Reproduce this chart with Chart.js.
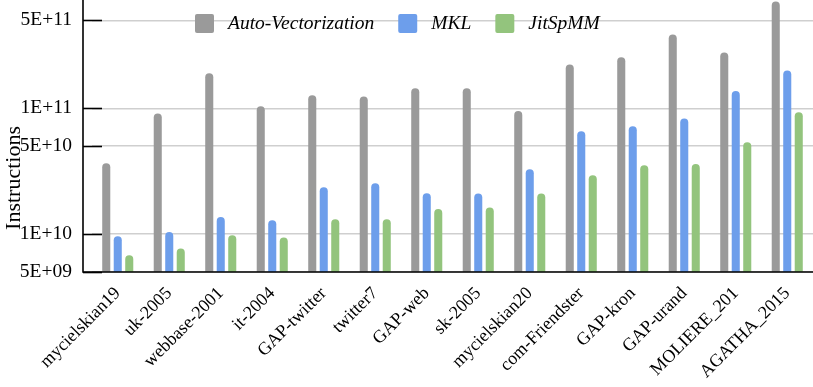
<!DOCTYPE html>
<html>
<head>
<meta charset="utf-8">
<script src="https://cdn.jsdelivr.net/npm/chart.js@4"></script>
<style>
  body{margin:0;background:#fff;}
</style>
</head>
<body>
<canvas id="myChart" width="813" height="387"></canvas>
<script>
const graphs=["mycielskian19","uk-2005","webbase-2001","it-2004","GAP-twitter","twitter7","GAP-web","sk-2005","mycielskian20","com-Friendster","GAP-kron","GAP-urand","MOLIERE_201","AGATHA_2015"];
const autoVec=[3.66e10,9.1e10,1.9e11,1.04e11,1.27e11,1.24e11,1.44e11,1.44e11,9.5e10,2.23e11,2.54e11,3.86e11,2.78e11,7.06e11];
const mkl=[9.6e9,1.04e10,1.37e10,1.29e10,2.36e10,2.54e10,2.11e10,2.1e10,3.28e10,6.56e10,7.2e10,8.3e10,1.37e11,2.0e11];
const jit=[6.8e9,7.7e9,9.8e9,9.4e9,1.31e10,1.31e10,1.58e10,1.63e10,2.1e10,2.94e10,3.53e10,3.6e10,5.37e10,9.3e10];
const yTicks=[5e9,1e10,5e10,1e11,5e11];
const yMin=5e9, yMax=7.25e11;

const serif="'Liberation Serif','Times New Roman',serif";

function sci(v){
    let e=Math.floor(Math.log10(v)+1e-9);
    let m=Math.round(v/Math.pow(10,e));
    return m+"E+"+(e<10?"0"+e:e);
}

// y axis line, inside ticks, x axis line, y title and the legend on top of the plot
const axesPlugin={
    id:"axesPlugin",
    afterDatasetsDraw(chart){
        const ctx=chart.ctx;
        const area=chart.chartArea;
        const y=chart.scales.y;
        const axisX=83;
        ctx.save();
        ctx.strokeStyle="#000";
        ctx.lineWidth=1.6;
        ctx.beginPath();
        ctx.moveTo(axisX,0);
        ctx.lineTo(axisX,area.bottom);
        ctx.lineTo(area.right,area.bottom);
        ctx.stroke();
        yTicks.forEach(v=>{
            let py=Math.round(y.getPixelForValue(v))+0.5;
            ctx.beginPath();
            ctx.moveTo(axisX,py);
            ctx.lineTo(axisX+19,py);
            ctx.stroke();
        });

        ctx.fillStyle="#000";
        ctx.font="22px "+serif;
        ctx.translate(14,178);
        ctx.rotate(-Math.PI/2);
        ctx.textAlign="center";
        ctx.textBaseline="middle";
        ctx.fillText("Instructions",0,0);
        ctx.restore();

        // legend
        ctx.save();
        ctx.font="italic 19.5px "+serif;
        ctx.textBaseline="middle";
        let lx=195;
        const ly=24;
        chart.data.datasets.forEach(ds=>{
            ctx.fillStyle=ds.backgroundColor;
            ctx.beginPath();
            ctx.roundRect(lx,14,19,19,2);
            ctx.fill();
            ctx.fillStyle="#000";
            ctx.fillText(ds.label,lx+33,ly);
            lx+=33+ctx.measureText(ds.label).width+24;
        });
        ctx.restore();
    }
};

let barChart=new Chart("myChart",{
    type:"bar",
    data:{
        labels:graphs,
        datasets:[
            {label:"Auto-Vectorization",data:autoVec,backgroundColor:"#9a9a9a"},
            {label:"MKL",data:mkl,backgroundColor:"#6d9eeb"},
            {label:"JitSpMM",data:jit,backgroundColor:"#93c47d"}
        ]
    },
    options:{
        responsive:false,
        animation:false,
        layout:{padding:0},
        datasets:{
            bar:{
                categoryPercentage:0.67,
                barPercentage:0.7,
                borderRadius:4,
                borderSkipped:"start"
            }
        },
        plugins:{
            legend:{display:false},
            title:{display:false},
            tooltip:{enabled:false}
        },
        scales:{
            x:{
                grid:{display:false,drawTicks:false},
                border:{display:false},
                afterFit:(scale)=>{
                    scale.height=115;
                    scale.paddingTop=0;
                    scale.paddingBottom=0;
                    scale.paddingLeft=0;
                    scale.paddingRight=0;
                },
                ticks:{
                    minRotation:45,
                    maxRotation:45,
                    padding:11,
                    color:"#000",
                    font:{family:serif,size:18}
                }
            },
            y:{
                type:"logarithmic",
                min:yMin,
                max:yMax,
                afterFit:(scale)=>{
                    scale.width=92;
                    scale.paddingTop=0;
                    scale.paddingBottom=0;
                },
                afterBuildTicks:(scale)=>{scale.ticks=yTicks.map(v=>({value:v}));},
                grid:{color:"#cfcfcf",lineWidth:1.5,drawTicks:false},
                border:{display:false},
                ticks:{
                    padding:20,
                    color:"#000",
                    font:{family:serif,size:19.5},
                    callback:(v)=>sci(v)
                }
            }
        }
    },
    plugins:[axesPlugin]
});
</script>
</body>
</html>
